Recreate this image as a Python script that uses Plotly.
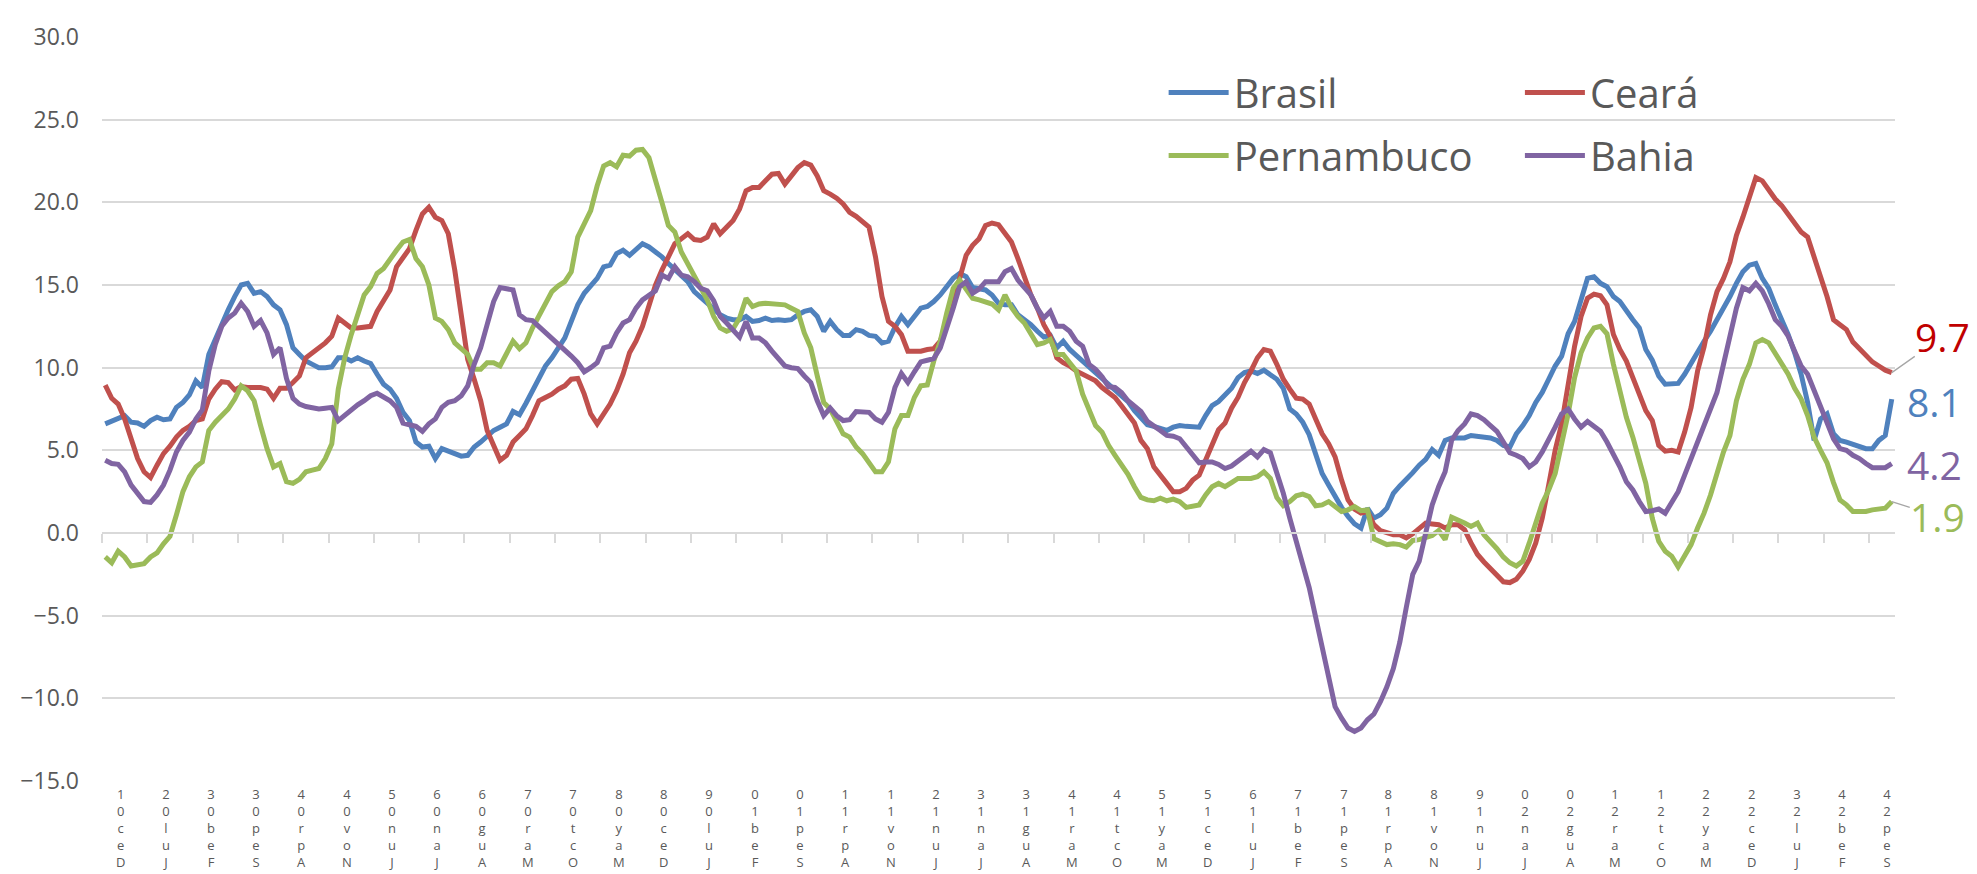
import plotly.graph_objects as go

# --- DADOS: variação em 12 meses (%), mensal, de dez/2001 a dez/2024 ---
BRASIL = [
    6.6, 6.75, 6.9, 7.1, 6.7, 6.65, 6.45, 6.8, 7.0, 6.85,
    6.9, 7.6, 7.9, 8.35, 9.2, 8.8, 10.8, 11.7, 12.7, 13.5,
    14.3, 15.0, 15.1, 14.5, 14.6, 14.3, 13.8, 13.5, 12.6, 11.2,
    10.8, 10.4, 10.2, 10.0, 10.0, 10.05, 10.6, 10.6, 10.4, 10.6,
    10.4, 10.25, 9.6, 9.0, 8.7, 8.15, 7.3, 6.8, 5.5, 5.2,
    5.25, 4.5, 5.1, 4.95, 4.85, 4.65, 4.7, 5.2, 5.5, 5.9,
    6.2, 6.4, 6.6, 7.35, 7.15, 7.85, 8.6, 9.5, 10.1, 10.6,
    11.2, 11.8, 12.8, 13.8, 14.5, 15.0, 15.4, 16.1, 16.2, 16.9,
    17.1, 16.8, 17.2, 17.5, 17.3, 17.0, 16.7, 16.3, 15.95, 15.6,
    15.2, 14.6, 14.2, 13.9, 13.55, 13.2, 13.0, 12.9, 12.9, 13.1,
    12.8, 12.85, 13.0, 12.85, 12.9, 12.85, 12.9, 13.2, 13.4, 13.5,
    13.1, 12.2, 12.8, 12.3, 11.95, 11.95, 12.3, 12.2, 11.95, 11.9,
    11.5, 11.6, 12.45, 13.1, 12.6, 13.1, 13.6, 13.7, 14.0, 14.4,
    14.9, 15.4, 15.7, 15.5, 14.85, 14.8, 14.7, 14.4, 13.9, 13.8,
    13.8, 13.2, 12.9, 12.6, 12.2, 11.85, 11.95, 11.2, 11.6, 11.1,
    10.75, 10.4, 10.05, 9.7, 9.3, 8.9, 8.65, 8.3, 7.95, 7.4,
    7.0, 6.55, 6.45, 6.35, 6.2, 6.4, 6.5, 6.45, 6.4, 6.4,
    7.1, 7.7, 7.95, 8.3, 8.75, 9.4, 9.7, 9.8, 9.65, 9.85,
    9.55, 9.3, 8.75, 7.5, 7.2, 6.7, 5.95, 4.8, 3.6, 2.9,
    2.2, 1.55, 1.0, 0.55, 0.3, 1.5, 0.9, 1.1, 1.5, 2.4,
    2.85, 3.2, 3.65, 4.1, 4.45, 5.05, 4.7, 5.6, 5.75, 5.75,
    5.75, 5.9, 5.85, 5.8, 5.75, 5.6, 5.3, 5.2, 6.0, 6.5,
    7.1, 7.9, 8.5, 9.3, 10.1, 10.7, 12.05, 12.8, 14.0, 15.4,
    15.5, 15.1, 14.9, 14.3, 14.0, 13.4, 12.9, 12.4, 11.1, 10.45,
    9.5, 9.0, 9.0, 9.05, 9.6, 10.3, 11.0, 11.6, 12.2, 12.9,
    13.5, 14.3, 15.1, 15.8, 16.2, 16.3, 15.4, 14.8, 13.8, 12.9,
    12.0, 10.9, 9.6, 7.9, 5.6, 6.9, 7.2, 6.0, 5.6, 5.5,
    5.35, 5.2, 5.1, 5.1, 5.6, 5.9, 8.1,
]

CEARA = [
    8.95, 8.15, 7.8, 6.9, 5.7, 4.5, 3.7, 3.35, 4.1, 4.8,
    5.25, 5.8, 6.2, 6.45, 6.8, 6.9, 8.1, 8.7, 9.15, 9.1,
    8.65, 8.85, 8.8, 8.8, 8.8, 8.7, 8.15, 8.75, 8.75, 9.1,
    9.5, 10.6, 10.9, 11.2, 11.5, 11.9, 13.0, 12.7, 12.4, 12.4,
    12.45, 12.5, 13.4, 14.0, 14.7, 16.1, 16.7, 17.2, 18.3, 19.3,
    19.7, 19.1, 18.9, 18.1, 15.9, 13.0, 10.5, 9.3, 8.0, 6.2,
    5.3, 4.4, 4.7, 5.5, 5.9, 6.3, 7.1, 8.0, 8.2, 8.4,
    8.7, 8.9, 9.3, 9.35, 8.4, 7.2, 6.6, 7.2, 7.8, 8.6,
    9.6, 10.9, 11.6, 12.5, 13.7, 15.0, 15.9, 16.7, 17.5, 17.8,
    18.1, 17.75, 17.7, 17.9, 18.7, 18.1, 18.5, 18.9, 19.6, 20.7,
    20.9, 20.9, 21.3, 21.7, 21.75, 21.1, 21.6, 22.1, 22.4, 22.25,
    21.6, 20.7, 20.5, 20.25, 19.9, 19.4, 19.15, 18.8, 18.5, 16.7,
    14.3, 12.8, 12.5, 12.0, 11.0, 11.0, 11.0, 11.1, 11.15, 11.6,
    12.8, 13.9, 15.4, 16.8, 17.4, 17.8, 18.6, 18.75, 18.65, 18.1,
    17.6, 16.6, 15.5, 14.4, 13.6, 12.6, 11.9, 10.6, 10.3, 10.1,
    9.8, 9.6, 9.4, 9.2, 8.8, 8.5, 8.2, 7.7, 7.2, 6.65,
    5.6, 5.1, 4.0, 3.45, 3.0, 2.5, 2.5, 2.7, 3.2, 3.5,
    4.4, 5.45, 6.25, 6.65, 7.55, 8.2, 9.1, 9.8, 10.6, 11.1,
    11.0, 10.2, 9.3, 8.7, 8.15, 8.1, 7.8, 6.9, 6.0, 5.4,
    4.6, 3.2, 2.0, 1.45, 1.2, 1.3, 0.5, 0.15, 0.0, -0.1,
    -0.1, -0.3, -0.05, 0.3, 0.6, 0.55, 0.5, 0.3, 0.5, 0.5,
    0.2, -0.6, -1.3, -1.75, -2.15, -2.6, -2.95, -3.0, -2.8, -2.3,
    -1.6, -0.6, 0.9, 2.9, 5.0, 6.6, 8.9, 11.3, 13.1, 14.2,
    14.45, 14.35, 13.8, 12.0, 11.1, 10.4, 9.4, 8.4, 7.4, 6.8,
    5.3, 4.95, 5.0, 4.9, 6.1, 7.6, 9.8, 11.25, 13.2, 14.6,
    15.4, 16.4, 18.0, 19.1, 20.4, 21.5, 21.3, 20.7, 20.2, 19.8,
    19.3, 18.7, 18.2, 17.9, 16.6, 15.5, 14.3, 12.9, 12.6, 12.3,
    11.55, 11.15, 10.8, 10.35, 10.1, 9.85, 9.7,
]

PERNAMBUCO = [
    -1.45, -1.8, -1.1, -1.45, -2.0, -1.9, -1.85, -1.45, -1.2, -0.65,
    -0.2, 1.1, 2.5, 3.4, 4.0, 4.3, 6.2, 6.7, 7.1, 7.5,
    8.1, 8.9, 8.6, 8.0, 6.5, 5.1, 4.0, 4.2, 3.1, 3.0,
    3.25, 3.7, 3.8, 3.9, 4.5, 5.4, 8.7, 10.6, 12.0, 13.2,
    14.4, 14.9, 15.7, 16.0, 16.6, 17.1, 17.6, 17.75, 16.6, 16.1,
    15.0, 13.0, 12.8, 12.3, 11.5, 11.1, 10.8, 9.9, 9.9, 10.3,
    10.3, 10.1, 10.8, 11.6, 11.15, 11.5, 12.4, 13.1, 13.8, 14.6,
    14.95, 15.2, 15.8, 17.9, 18.7, 19.5, 21.0, 22.2, 22.4, 22.15,
    22.85, 22.8, 23.15, 23.2, 22.7, 21.2, 20.0, 18.6, 18.2, 17.0,
    16.3, 15.5, 14.9, 14.1, 13.1, 12.4, 12.2, 12.35, 13.0, 14.2,
    13.7, 13.85, 13.9, 13.85, 13.85, 13.8, 13.6, 13.4, 12.1, 11.2,
    9.5, 7.9, 7.5, 6.7, 6.0, 5.8, 5.2, 4.8, 4.25, 3.7,
    3.7, 4.3, 6.3, 7.1, 7.1, 8.2, 8.9, 8.95, 10.4, 11.6,
    13.3, 14.8, 15.3, 14.8, 14.2, 14.1, 14.0, 13.85, 13.5, 14.4,
    13.65, 13.1, 12.7, 12.1, 11.4, 11.5, 11.7, 10.8, 10.8, 10.3,
    9.8, 8.4, 7.5, 6.5, 6.1, 5.3, 4.7, 4.1, 3.55, 2.8,
    2.15, 2.0, 1.95, 2.1, 1.95, 2.05, 1.9, 1.55, 1.6, 1.7,
    2.3, 2.8, 3.0, 2.8, 3.05, 3.3, 3.3, 3.3, 3.4, 3.7,
    3.3, 2.15, 1.65, 1.9, 2.25, 2.35, 2.2, 1.65, 1.7, 1.9,
    1.6, 1.3, 1.4, 1.6, 1.35, 1.4, -0.35, -0.5, -0.7, -0.65,
    -0.7, -0.85, -0.45, -0.4, -0.3, -0.15, 0.15, -0.4, 0.95, 0.8,
    0.6, 0.4, 0.6, -0.1, -0.5, -0.95, -1.45, -1.8, -2.0, -1.7,
    -0.6, 0.5, 1.8, 2.6, 3.6, 5.4, 7.2, 9.4, 10.9, 11.8,
    12.4, 12.5, 12.05, 10.2, 8.6, 7.0, 5.8, 4.3, 3.0, 0.9,
    -0.5, -1.1, -1.4, -2.05, -1.4, -0.7, 0.3, 1.2, 2.3, 3.6,
    4.9, 5.9, 8.0, 9.3, 10.2, 11.5, 11.7, 11.5, 10.9, 10.3,
    9.6, 8.75, 8.1, 7.1, 5.8, 5.0, 4.25, 3.05, 2.0, 1.7,
    1.3, 1.3, 1.3, 1.4, 1.45, 1.5, 1.9,
]

BAHIA = [
    4.4, 4.2, 4.15, 3.7, 2.9, 2.4, 1.9, 1.85, 2.3, 2.9,
    3.8, 4.9, 5.6, 6.1, 6.9, 7.45, 9.8, 11.4, 12.5, 13.0,
    13.3, 13.9, 13.4, 12.5, 12.85, 12.1, 10.8, 11.2, 9.35, 8.15,
    7.8, 7.65, 7.6, 7.5, 7.55, 7.6, 6.8, 7.15, 7.4, 7.75,
    8.0, 8.3, 8.45, 8.25, 8.0, 7.6, 6.65, 6.55, 6.45, 6.15,
    6.6, 6.9, 7.6, 7.9, 8.0, 8.3, 8.9, 10.2, 11.2, 12.6,
    14.0, 14.85, 14.75, 14.7, 13.2, 12.9, 12.85, 12.5, 12.2, 11.8,
    11.5, 11.1, 10.7, 10.3, 9.75, 10.0, 10.3, 11.2, 11.3, 12.1,
    12.7, 12.9, 13.6, 14.1, 14.4, 14.65, 15.6, 15.4, 16.1, 15.6,
    15.5, 15.2, 14.8, 14.65, 14.05, 13.1, 12.7, 12.3, 11.85, 12.8,
    11.8, 11.8, 11.5, 11.0, 10.6, 10.1, 10.0, 9.95, 9.5, 9.1,
    8.0, 7.1, 7.55, 7.1, 6.8, 6.85, 7.35, 7.3, 7.3, 6.9,
    6.7, 7.3, 8.8, 9.65, 9.1, 9.75, 10.35, 10.45, 10.55, 11.2,
    12.3, 13.6, 14.9, 15.2, 14.5, 14.75, 15.2, 15.2, 15.2, 15.8,
    16.0, 15.3, 14.85, 14.4, 13.6, 13.0, 13.4, 12.5, 12.5, 12.2,
    11.6, 11.3, 10.2, 9.9, 9.45, 8.85, 8.8, 8.5, 8.0, 7.7,
    7.35, 6.75, 6.5, 6.2, 5.9, 5.85, 5.7, 5.2, 4.65, 4.25,
    4.3, 4.3, 4.15, 3.9, 4.05, 4.35, 4.65, 4.95, 4.6, 5.05,
    4.85, 3.7, 2.4, 0.9, -0.5, -1.8, -3.3, -5.1, -6.8, -8.7,
    -10.5, -11.2, -11.8, -12.0, -11.8, -11.3, -10.95, -10.2, -9.3, -8.2,
    -6.6, -4.5, -2.5, -1.7, -0.1, 1.7, 2.8, 3.7, 5.6, 6.2,
    6.6, 7.2, 7.1, 6.85, 6.5, 6.15, 5.5, 4.85, 4.7, 4.5,
    4.0, 4.3, 4.9, 5.6, 6.4, 7.2, 7.5, 6.9, 6.4, 6.75,
    6.45, 6.15, 5.5, 4.8, 4.0, 3.1, 2.6, 1.9, 1.3, 1.35,
    1.45, 1.2, 1.8, 2.5, 3.5, 4.5, 5.7, 6.7, 7.5, 8.5,
    10.2, 11.8, 13.6, 14.85, 14.65, 15.1, 14.65, 13.85, 12.9, 12.5,
    11.9, 11.0, 10.1, 9.6, 8.6, 7.5, 6.5, 5.7, 5.1, 5.0,
    4.7, 4.5, 4.2, 3.95, 3.95, 3.95, 4.2,
]

# rótulos do eixo x: um a cada 7 meses, a partir de Dec01
ROTULOS_X = [
    'Dec01', 'Jul02', 'Feb03', 'Sep03', 'Apr04', 'Nov04', 'Jun05', 'Jan06',
    'Aug06', 'Mar07', 'Oct07', 'May08', 'Dec08', 'Jul09', 'Feb10', 'Sep10',
    'Apr11', 'Nov11', 'Jun12', 'Jan13', 'Aug13', 'Mar14', 'Oct14', 'May15',
    'Dec15', 'Jul16', 'Feb17', 'Sep17', 'Apr18', 'Nov18', 'Jun19', 'Jan20',
    'Aug20', 'Mar21', 'Oct21', 'May22', 'Dec22', 'Jul23', 'Feb24', 'Sep24',
]
PASSO = 7

# --- ESTILO ---
FONTE = 'Open Sans'
CINZA = '#595959'
GRADE = '#D9D9D9'
Y_MIN, Y_MAX = -15, 30

# (nome, valores, cor, legenda)  -> duas colunas de legenda
SERIES = [
    ('Brasil', BRASIL, '#4F81BD', 'legend'),
    ('Ceará', CEARA, '#C0504D', 'legend2'),
    ('Pernambuco', PERNAMBUCO, '#9BBB59', 'legend'),
    ('Bahia', BAHIA, '#8064A2', 'legend2'),
]

meses = list(range(len(BRASIL)))

fig = go.Figure()
for nome, valores, cor, leg in SERIES:
    fig.add_trace(go.Scatter(
        x=meses, y=valores, name=nome, mode='lines', legend=leg, legendgroup=nome,
        line=dict(color=cor, width=5)
    ))

# rótulos do eixo x empilhados (caracteres de baixo para cima)
anotacoes = []
for k, rot in enumerate(ROTULOS_X):
    anotacoes.append(dict(
        x=k * PASSO, y=0, xref='x', yref='paper', text='<br>'.join(reversed(rot)),
        showarrow=False, xanchor='center', yanchor='top', xshift=15, yshift=-2,
        font=dict(family=FONTE, size=13, color=CINZA)
    ))

# rótulos dos últimos valores
ultimo = meses[-1]
anotacoes += [
    dict(x=ultimo, y=CEARA[-1], text=f'{CEARA[-1]:.1f}', showarrow=True,
         ax=51, ay=-36, arrowhead=0, arrowwidth=1.3, arrowcolor='#A6A6A6', borderpad=0,
         font=dict(family=FONTE, size=39, color='#C00000')),
    dict(x=ultimo, y=BRASIL[-1], text=f'{BRASIL[-1]:.1f}', showarrow=False,
         xanchor='left', xshift=14, yshift=-2, borderpad=0,
         font=dict(family=FONTE, size=39, color='#4F81BD')),
    dict(x=ultimo, y=BAHIA[-1], text=f'{BAHIA[-1]:.1f}', showarrow=False,
         xanchor='left', xshift=14, yshift=-1, borderpad=0,
         font=dict(family=FONTE, size=39, color='#8064A2')),
    dict(x=ultimo, y=PERNAMBUCO[-1], text=f'{PERNAMBUCO[-1]:.1f}', showarrow=True,
         ax=46, ay=15, arrowhead=0, arrowwidth=1.3, arrowcolor='#A6A6A6', borderpad=0,
         font=dict(family=FONTE, size=39, color='#9BBB59')),
]

estilo_legenda = dict(
    orientation='v', yanchor='top', xanchor='left', y=0.969,
    tracegroupgap=8, itemwidth=60, bgcolor='rgba(0,0,0,0)',
    font=dict(family=FONTE, size=40, color=CINZA)
)

fig.update_layout(
    width=1977, height=874,
    margin=dict(l=90, r=90, t=23, b=101),
    paper_bgcolor='white', plot_bgcolor='white',
    font=dict(family=FONTE, color=CINZA),
    showlegend=True,
    legend=dict(estilo_legenda, x=0.5921),
    legend2=dict(estilo_legenda, x=0.7908),
    annotations=anotacoes,
    xaxis=dict(
        range=[-0.5, len(meses) - 0.5],
        anchor='free', position=(0 - Y_MIN) / (Y_MAX - Y_MIN),
        showline=True, linecolor=GRADE, linewidth=1.5,
        ticks='outside', ticklen=9, tickwidth=1.5, tickcolor=GRADE,
        tickmode='array', tickvals=[k * PASSO - 0.5 for k in range(len(ROTULOS_X))],
        showticklabels=False, showgrid=False, zeroline=False
    ),
    yaxis=dict(
        range=[Y_MIN, Y_MAX], tickmode='linear', tick0=0, dtick=5,
        tickformat='.1f', gridcolor=GRADE, gridwidth=1.5,
        zeroline=False, showline=False, ticks='',
        ticklabelstandoff=22,
        tickfont=dict(family=FONTE, size=23, color=CINZA)
    ),
)

fig.write_html('out.html')
